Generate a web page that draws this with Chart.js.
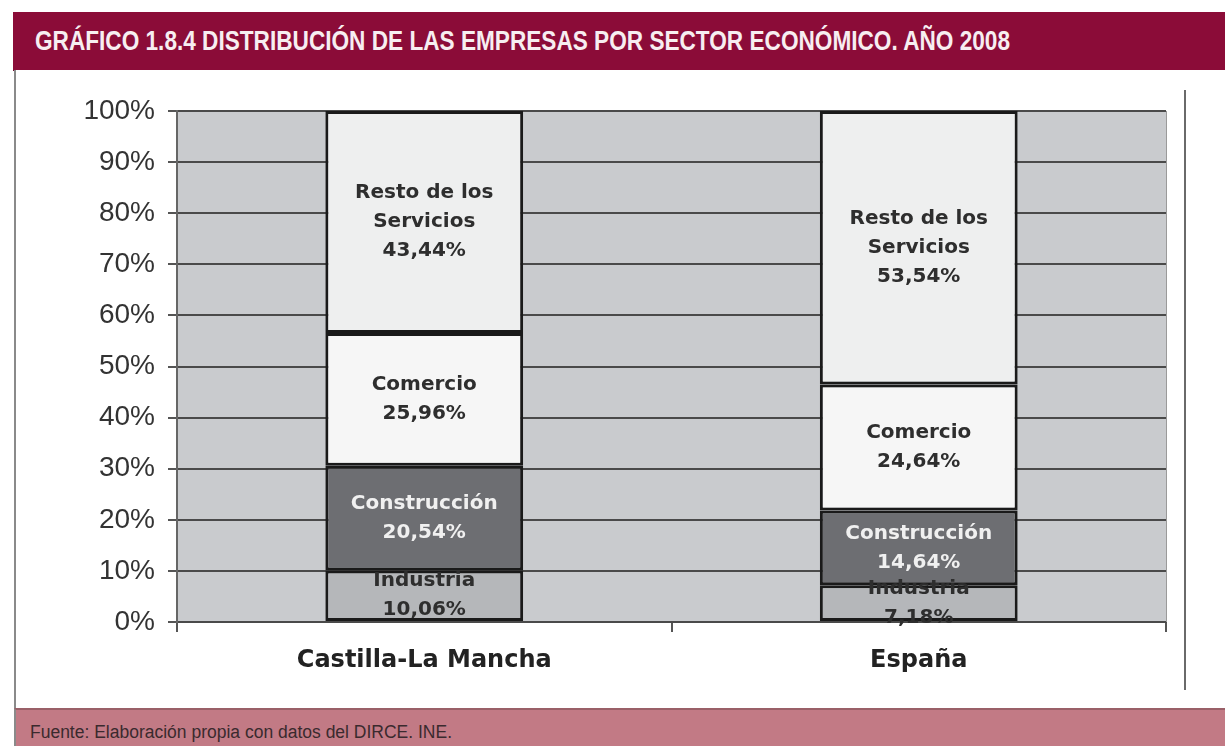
<!DOCTYPE html>
<html>
<head>
<meta charset="utf-8">
<script src="https://cdn.jsdelivr.net/npm/chart.js@4.4.1/dist/chart.umd.min.js"></script>
<style>
  html, body { margin: 0; padding: 0; background: #ffffff; width: 1225px; height: 746px; overflow: hidden; }
  #titlebar { position: absolute; left: 13px; top: 12px; width: 1212px; height: 58px; background: #8b0c38; border-bottom: 1px solid #6d0a2c; }
  #title { position: absolute; left: 22px; top: 14px; white-space: nowrap; color: #f7eef1; font-family: "Liberation Sans Narrow", "Liberation Sans", Arial, sans-serif; font-weight: bold; font-size: 27px; line-height: 30px; transform-origin: 0 0; }
  #body { position: absolute; left: 14px; top: 70px; width: 1211px; height: 638px; border-left: 2px solid #8a8a8a; background: #ffffff; }
  #rightline { position: absolute; left: 1184px; top: 90px; width: 2px; height: 600px; background: #6a6a6a; }
  #footer { position: absolute; left: 14px; top: 708px; width: 1211px; height: 38px; background: #c27a85; border-top: 2px solid #9a6068; border-left: 2px solid #8a8a8a; }
  #source { position: absolute; left: 14px; top: 12px; white-space: nowrap; color: #3a2a2e; font-family: "Liberation Sans", Arial, sans-serif; font-size: 18px; line-height: 20px; transform-origin: 0 0; }
  #wrap { position: absolute; left: 15px; top: 70px; width: 1170px; height: 638px; }
</style>
</head>
<body>
<div id="titlebar"><div id="title">GRÁFICO 1.8.4 DISTRIBUCIÓN DE LAS EMPRESAS POR SECTOR ECONÓMICO. AÑO 2008</div></div>
<div id="body"></div>
<div id="rightline"></div>
<div id="footer"><div id="source">Fuente: Elaboración propia con datos del DIRCE. INE.</div></div>
<div id="wrap"><canvas id="c" width="1170" height="638"></canvas></div>
<script>
// ---- data ----
const categories = ['Castilla-La Mancha', 'España'];
const seriesNames = ['Industria', 'Construcción', 'Comercio', 'Resto de los Servicios'];
const seriesLabelLines = [['Industria'], ['Construcción'], ['Comercio'], ['Resto de los', 'Servicios']];
const industria = [10.06, 7.18];
const construccion = [20.54, 14.64];
const comercio = [25.96, 24.64];
const restoServicios = [43.44, 53.54];
const yTicks = [0, 10, 20, 30, 40, 50, 60, 70, 80, 90, 100];

// fit header/footer text widths
function fitText(id, target) {
  const el = document.getElementById(id);
  const w = el.getBoundingClientRect().width;
  if (w > 0) el.style.transform = 'scaleX(' + (target / w) + ')';
}
fitText('title', 975);
fitText('source', 422);

const fills = ['#b5b7ba', '#6d6e72', '#f6f6f6', '#eeefef'];
const textColors = ['#2e2e2e', '#f0f0f0', '#2e2e2e', '#2e2e2e'];
const seriesValues = [industria, construccion, comercio, restoServicios];

const datasets = seriesNames.map((name, i) => ({
  label: name,
  data: seriesValues[i],
  backgroundColor: fills[i],
  borderColor: '#1a1a1a',
  borderWidth: 3,
  borderSkipped: false,
  barPercentage: 0.4,
  categoryPercentage: 1.0
}));

const plotBg = {
  id: 'plotBg',
  beforeDraw(chart) {
    const { ctx, chartArea: a } = chart;
    ctx.save();
    ctx.fillStyle = '#c9cbce';
    ctx.fillRect(a.left, a.top, a.right - a.left, a.bottom - a.top);
    ctx.restore();
  },
  afterDraw(chart) {
    const { ctx, chartArea: a } = chart;
    ctx.save();
    ctx.strokeStyle = '#9a9a9a';
    ctx.lineWidth = 1;
    ctx.beginPath();
    ctx.moveTo(a.right + 0.5, a.top);
    ctx.lineTo(a.right + 0.5, a.bottom);
    ctx.stroke();
    ctx.restore();
  }
};

const segLabels = {
  id: 'segLabels',
  afterDatasetsDraw(chart) {
    const ctx = chart.ctx;
    ctx.save();
    ctx.font = 'bold 20px "DejaVu Sans", Verdana, sans-serif';
    ctx.textAlign = 'center';
    ctx.textBaseline = 'middle';
    const lh = 29;
    chart.data.datasets.forEach((ds, di) => {
      const meta = chart.getDatasetMeta(di);
      meta.data.forEach((el, i) => {
        const v = ds.data[i];
        const lines = seriesLabelLines[di].concat([v.toFixed(2).replace('.', ',') + '%']);
        const cy = (el.y + el.base) / 2;
        const start = cy - (lines.length - 1) * lh / 2;
        ctx.fillStyle = textColors[di];
        lines.forEach((t, k) => ctx.fillText(t, el.x, start + k * lh));
      });
    });
    ctx.restore();
  }
};

new Chart(document.getElementById('c'), {
  type: 'bar',
  data: { labels: categories, datasets },
  options: {
    responsive: false,
    animation: false,
    layout: { padding: { left: 0, right: 19, top: 41, bottom: 0 } },
    plugins: { legend: { display: false }, tooltip: { enabled: false }, title: { display: false } },
    scales: {
      x: {
        stacked: true,
        grid: { display: true, drawOnChartArea: false, drawTicks: true, tickLength: 10, tickColor: '#555555', lineWidth: 2, offset: true },
        border: { display: true, color: '#4a4a4a', width: 2 },
        ticks: { color: '#222222', font: { family: '"DejaVu Sans", Verdana, sans-serif', size: 24, weight: 'bold' }, padding: 14 },
        afterFit(scale) { scale.height = 86; }
      },
      y: {
        stacked: true,
        min: 0, max: 100,
        afterBuildTicks(scale) { scale.ticks = yTicks.map(v => ({ value: v })); },
        grid: { color: '#4a4a4a', lineWidth: 2, drawTicks: true, tickLength: 9, tickColor: '#555555' },
        border: { display: true, color: '#666666', width: 2 },
        ticks: { color: '#333333', font: { family: '"Liberation Sans", Arial, sans-serif', size: 28 }, padding: 13, callback: v => v + '%' },
        afterFit(scale) { scale.width = 162; }
      }
    }
  },
  plugins: [plotBg, segLabels]
});
</script>
</body>
</html>
